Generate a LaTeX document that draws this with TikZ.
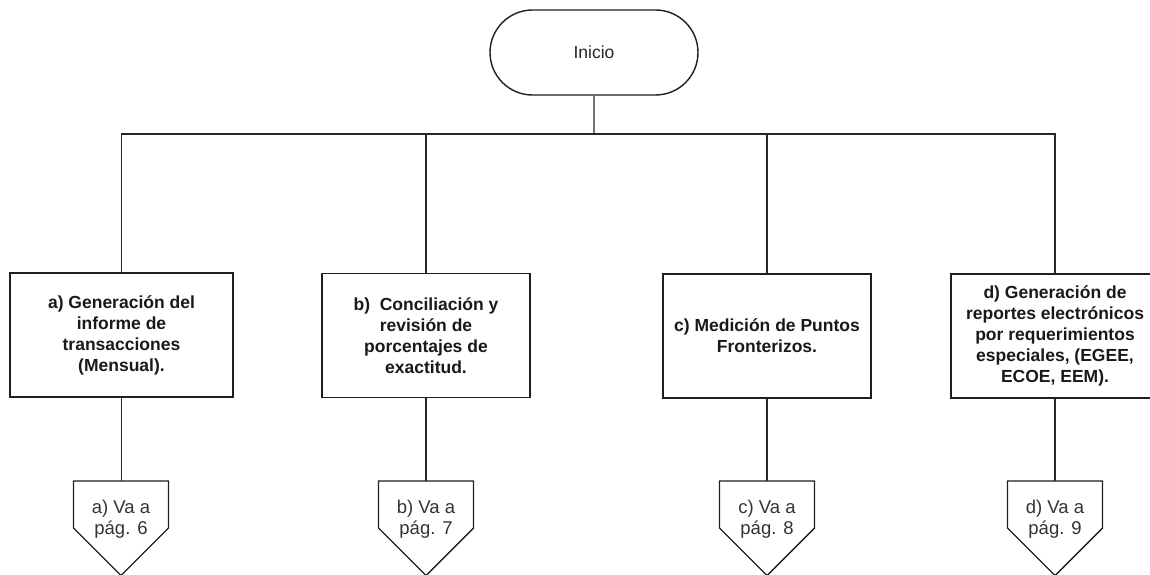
\documentclass[tikz,border=0pt]{standalone}
\usepackage{fontspec}
\setmainfont{Liberation Sans}
\usetikzlibrary{calc,shapes.misc}
\begin{document}
\begin{tikzpicture}[x=1pt,y=-1pt,
  outline/.style={draw=black!88,line width=1.4pt,line join=miter},
  link/.style={draw=black!85,line width=1.2pt},
  terminal/.style={outline,rounded rectangle,minimum width=208pt,minimum height=85pt,
    inner sep=0pt,font=\fontsize{17.5}{21}\selectfont,text=black!85},
  procbox/.style={outline,rectangle,minimum height=124pt,inner sep=0pt,align=center,
    font=\bfseries\fontsize{17.5}{21}\selectfont,text=black!90},
  offtext/.style={inner sep=0pt,align=center,font=\fontsize{18.5}{20.5}\selectfont,text=black!80}]
\useasboundingbox (0,0) rectangle (1150,575);

% start terminal
\node[terminal] (ini) at (594,52.5) {Inicio};
\coordinate (bus) at (594,134);

% process boxes
\node[procbox,minimum width=223pt] (bxa) at (121.5,335) {a) Generación del\\informe de\\transacciones\\(Mensual).};
\node[procbox,minimum width=208pt] (bxb) at (426,335.5) {b)\ \ Conciliación y\\revisión de\\porcentajes de\\exactitud.};
\node[procbox,minimum width=208pt] (bxc) at (767,336) {c) Medición de Puntos\\Fronterizos.};
\node[procbox,minimum width=208pt] (bxd) at (1055,336) {d) Generación de\\reportes electrónicos\\por requerimientos\\especiales, (EGEE,\\ECOE, EEM).};

% off-page connectors
\node[offtext] (ca) at (121,519) {a) Va a\\pág. 6};
\node[offtext] (cb) at (426,519) {b) Va a\\pág. 7};
\node[offtext] (cc) at (767,519) {c) Va a\\pág. 8};
\node[offtext] (cd) at (1055,519) {d) Va a\\pág. 9};
\foreach \n in {ca,cb,cc,cd}{
  \draw[outline] ($(\n)+(-47.5,-38)$) -- ($(\n)+(47.5,-38)$) -- ($(\n)+(47.5,9)$)
    -- ($(\n)+(0,56.5)$) -- ($(\n)+(-47.5,9)$) -- cycle;
  \coordinate (\n-in) at ($(\n)+(0,-38)$);
}

% branching lines
\draw[link] (ini) -- (bus);
\draw[link] (bxa.north) -- (bxa.north |- bus) -- (bxd.north |- bus) -- (bxd.north);
\draw[link] (bxb.north |- bus) -- (bxb.north);
\draw[link] (bxc.north |- bus) -- (bxc.north);

% links to the connectors
\draw[link] (bxa.south) -- (bxa.south |- ca-in);
\draw[link] (bxb) -- (cb-in);
\draw[link] (bxc) -- (cc-in);
\draw[link] (bxd) -- (cd-in);
\end{tikzpicture}
\end{document}
